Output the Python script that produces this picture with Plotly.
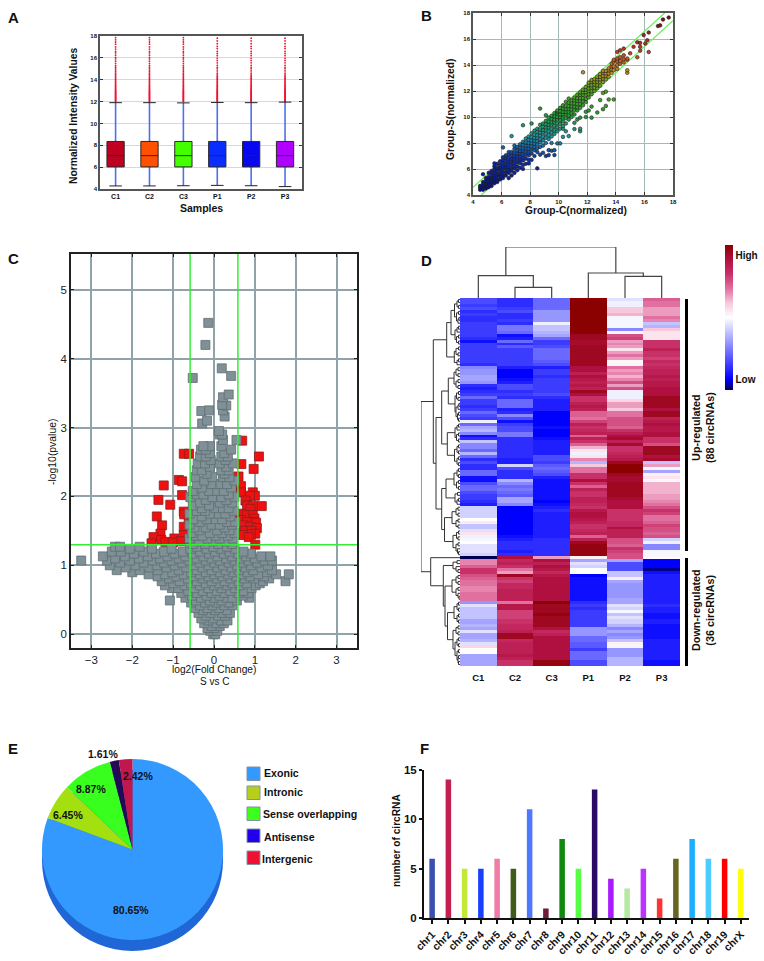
import plotly.graph_objects as go

W, H = 764, 961
FONT = "Liberation Sans"

# panel A
samples = ["C1", "C2", "C3", "P1", "P2", "P3"]
box_q1 = [6.02, 6.02, 6.02, 6.02, 6.02, 6.02]
box_median = [7.05, 7.05, 7.05, 7.05, 7.05, 7.05]
box_q3 = [8.35, 8.35, 8.35, 8.35, 8.35, 8.35]
box_low = [4.28, 4.28, 4.3, 4.33, 4.3, 4.22]
box_high = [11.9, 11.9, 11.88, 11.92, 11.9, 11.95]
box_colors = ["#c00020", "#ff5000", "#44ff00", "#0a2cff", "#0808f0", "#b000ff"]
outliers_c = [12.0, 12.06, 12.12, 12.18, 12.24, 12.3, 12.36, 12.42, 12.48, 12.54, 12.6, 12.66, 12.72,
              12.78, 12.84, 12.9, 12.96, 13.02, 13.1, 13.18, 13.26, 13.34, 13.42, 13.5, 13.6, 13.7, 13.8,
              13.9, 14.0, 14.1, 14.22, 14.34, 14.46, 14.6, 14.74, 14.88, 15.0, 15.15, 15.3, 15.5, 15.7,
              15.9, 16.05, 16.25, 16.45, 16.6, 16.8, 17.0, 17.25, 17.45, 17.65, 17.85]
outliers_p = [12.0, 12.06, 12.12, 12.18, 12.24, 12.3, 12.36, 12.42, 12.48, 12.54, 12.6, 12.66, 12.72,
              12.78, 12.84, 12.9, 12.96, 13.02, 13.1, 13.18, 13.26, 13.34, 13.42, 13.5, 13.6, 13.7, 13.8,
              13.9, 14.0, 14.1, 14.2, 14.32, 14.44, 14.6, 14.8, 15.0, 15.12, 15.32, 15.55, 15.75, 15.95,
              16.2, 16.4, 16.6, 16.85, 17.05, 17.3, 17.55, 17.8]

# panel B, as (x, [y, ...])
b_rows = [
    (4.5, [4.4, 4.55, 4.7]), (4.7, [4.4, 4.6, 4.8, 5.0, 5.6]), (4.9, [4.5, 4.7, 4.9, 5.1, 5.3]),
    (5.1, [4.6, 4.8, 5.0, 5.2, 5.4, 5.7]), (5.3, [4.7, 4.95, 5.15, 5.35, 5.6, 5.85]),
    (5.5, [4.9, 5.1, 5.3, 5.5, 5.75, 6.0, 6.2, 6.43]), (5.7, [5.0, 5.2, 5.45, 5.65, 5.9, 6.1, 6.4]),
    (5.9, [5.2, 5.45, 5.65, 5.9, 6.1, 6.3, 6.6]), (6.1, [5.3, 5.5, 5.75, 6.0, 6.2, 6.45, 6.7, 6.9, 7.66]),
    (6.3, [5.5, 5.75, 6.0, 6.2, 6.4, 6.65, 6.9, 7.05]), (6.5, [5.3, 5.7, 5.95, 6.15, 6.4, 6.6, 6.85, 7.1, 7.3]),
    (6.7, [5.5, 5.85, 6.1, 6.35, 6.6, 6.8, 7.05, 7.3, 8.53]), (6.9, [5.7, 6.05, 6.3, 6.55, 6.8, 7.0, 7.25, 7.55, 7.8]),
    (7.1, [5.9, 6.2, 6.5, 6.75, 7.0, 7.2, 7.45, 7.7]), (7.3, [6.1, 6.45, 6.7, 6.95, 7.2, 7.4, 7.65, 7.9]),
    (7.5, [6.0, 6.3, 6.65, 6.9, 7.15, 7.4, 7.6, 7.85, 8.1, 9.37]), (7.7, [6.4, 6.8, 7.1, 7.35, 7.6, 7.8, 8.05, 8.35]),
    (7.9, [6.43, 6.7, 7.05, 7.3, 7.55, 7.8, 8.0, 8.25, 8.5]), (8.1, [6.7, 7.2, 7.5, 7.75, 8.0, 8.2, 8.45, 8.75, 9.5]),
    (8.3, [7.0, 7.45, 7.7, 7.95, 8.2, 8.4, 8.65, 8.95]), (8.5, [6.05, 7.3, 7.6, 7.9, 8.15, 8.4, 8.6, 8.85, 9.1]),
    (8.7, [7.1, 7.7, 8.05, 8.3, 8.6, 8.8, 9.05, 9.4, 10.65]), (8.9, [7.25, 7.8, 8.2, 8.5, 8.8, 9.0, 9.25, 9.5]),
    (9.1, [7.0, 8.0, 8.4, 8.7, 9.0, 9.2, 9.45, 9.7, 10.14]), (9.3, [7.07, 7.45, 8.3, 8.6, 8.9, 9.2, 9.4, 9.65, 9.95]),
    (9.5, [7.4, 8.0, 8.5, 8.8, 9.1, 9.4, 9.6, 9.85, 10.1]), (9.7, [7.07, 7.45, 8.7, 9.0, 9.3, 9.6, 9.8, 10.05, 10.3]),
    (9.9, [7.97, 8.9, 9.2, 9.5, 9.8, 10.0, 10.25, 10.4, 10.5]), (10.1, [7.97, 9.1, 9.45, 9.75, 10.0, 10.2, 10.45, 10.7]),
    (10.3, [8.47, 9.1, 9.3, 9.65, 9.95, 10.2, 10.4, 10.65, 10.9]), (10.5, [8.9, 9.5, 9.9, 10.2, 10.4, 10.6, 10.85, 11.17]),
    (10.7, [8.53, 9.8, 10.1, 10.4, 10.6, 10.85, 11.1, 11.42]), (10.9, [10.0, 10.3, 10.6, 10.85, 11.05, 11.3]),
    (11.1, [9.07, 9.55, 10.2, 10.55, 10.8, 11.05, 11.3, 11.5]), (11.3, [9.8, 10.5, 10.75, 11.0, 11.25, 11.45, 11.7]),
    (11.5, [8.9, 9.1, 9.95, 10.7, 11.0, 11.25, 11.45, 11.7, 11.9]), (11.7, [10.9, 11.2, 11.45, 11.7, 11.9, 12.1, 13.44]),
    (11.9, [10.0, 10.4, 11.15, 11.4, 11.7, 11.9, 12.1, 12.3]), (12.1, [10.5, 11.5, 11.75, 12.0, 12.2, 12.45, 12.65]),
    (12.3, [9.95, 10.8, 11.75, 12.0, 12.25, 12.45, 12.7, 12.85]), (12.5, [12.0, 12.25, 12.5, 12.7, 12.9]),
    (12.7, [10.35, 12.2, 12.45, 12.7, 12.9, 13.1]), (12.9, [11.3, 12.4, 12.7, 12.9, 13.1, 13.3]),
    (13.1, [10.6, 11.85, 12.7, 12.95, 13.15, 13.4, 13.55]), (13.3, [10.85, 11.95, 12.9, 13.15, 13.35, 13.55]),
    (13.5, [11.35, 13.1, 13.35, 13.6, 13.75]), (13.7, [13.4, 13.65, 13.9, 14.1]),
    (13.85, [11.35, 13.6, 13.9, 14.25, 14.4]), (14.1, [13.7, 14.0, 14.3, 14.5, 15.0]),
    (14.3, [14.1, 14.3, 14.6, 15.13]), (14.55, [14.2, 14.45, 14.75, 15.26]), (14.8, [13.4, 13.6, 14.4, 14.5]),
    (15.0, [14.9]), (15.24, [15.4]), (15.5, [14.6, 15.75]), (15.7, [15.1, 15.4, 15.7]),
    (15.95, [16.3]), (16.06, [15.65]), (16.2, [15.9]), (16.3, [15.0, 16.5]),
    (16.95, [17.0]), (17.1, [17.05]), (17.3, [17.5]), (17.7, [17.65]),
]
b_fold_lines = [0.585, -0.585]

# panel C, as (y, [x, ...])
red_rows = [
    (2.81, [0.69]), (2.62, [-0.74, -0.61]), (2.58, [1.1]), (2.47, [0.67]), (2.4, [0.97]), (2.29, [0.6]),
    (2.24, [-0.86]), (2.22, [-0.78]), (2.16, [-1.23]), (2.15, [0.66]), (2.06, [0.66, 0.95]), (2.02, [-0.78]),
    (2.01, [1.0, 0.88]), (1.95, [-1.36]), (1.94, [0.77]), (1.88, [-1.07]), (1.87, [0.81]), (1.86, [1.17, 0.95]),
    (1.82, [0.89]), (1.78, [-0.74]), (1.75, [0.64]), (1.74, [-0.73]), (1.73, [0.81, 0.95]), (1.71, [-1.4]),
    (1.68, [0.99]), (1.66, [-0.62, 0.65]), (1.63, [0.97, 0.8]), (1.62, [1.03]), (1.58, [-1.27, 0.73]),
    (1.56, [-0.74, 0.89]), (1.54, [1.05]), (1.5, [0.75, 0.92]), (1.46, [-1.31, 1.01]), (1.45, [0.9]),
    (1.44, [-0.74, 0.71]), (1.41, [-1.48, 0.85]), (1.39, [-0.97]), (1.37, [-1.29]), (1.35, [-0.82]),
    (1.34, [-1.19]), (1.33, [-1.01]), (1.32, [-1.53, -0.58]), (1.3, [1.01]),
]
gray_rows = [
    (0.0, [-0.02, 0.03]), (0.05, [-0.09, 0.08]), (0.09, [0.0, -0.16]), (0.12, [0.14, -0.06]),
    (0.16, [-0.24, 0.05, 0.24]), (0.2, [-0.14, 0.17, 0.33]), (0.23, [-0.31, -0.03]), (0.27, [-0.2, 0.1, 0.27]),
    (0.31, [-0.38, -0.09, 0.2, 0.39]), (0.35, [-0.27, 0.02, 0.31]), (0.38, [-0.47, -0.16, 0.12]),
    (0.42, [-0.35, -0.04, 0.25, 0.46]), (0.46, [-0.56, -0.22, 0.06, 0.36]), (0.49, [-1.08, -0.44, -0.1, 0.18, 0.56]),
    (0.53, [-0.7, -0.32, 0.0, 0.3, 0.45, 0.86]), (0.56, [-0.54, -0.18, 0.13, 0.7]),
    (0.6, [-0.8, -0.42, -0.06, 0.24, 0.58, 0.84]), (0.63, [-0.63, -0.28, 0.06, 0.4, 0.72]),
    (0.67, [-1.03, -0.88, -0.48, -0.14, 0.18, 0.52, 0.92]), (0.71, [-1.2, -0.72, -0.34, 0.0, 0.3, 0.64, 1.02]),
    (0.74, [-1.0, -0.56, -0.2, 0.12, 0.44, 0.8, 1.12]), (0.77, [-1.28, -0.84, -0.42, -0.06, 0.26, 0.6, 1.2, 1.75]),
    (0.81, [-1.1, -0.64, -0.28, 0.06, 0.4, 0.74, 0.98, 1.35]), (0.84, [-1.38, -0.92, -0.48, -0.14, 0.2, 0.54, 0.88, 1.22]),
    (0.87, [-1.6, -1.2, -0.74, -0.34, 0.0, 0.34, 0.68, 1.08, 1.52, 1.83]), (0.9, [-2.0, -1.02, -0.56, -0.2, 0.14, 0.46, 0.82, 1.3]),
    (0.93, [-2.38, -1.82, -1.38, -0.86, -0.42, -0.06, 0.28, 0.6, 0.96, 1.42]),
    (0.97, [-2.16, -1.58, -1.16, -0.68, -0.28, 0.08, 0.42, 0.76, 1.16]),
    (1.0, [-2.55, -1.92, -1.4, -0.96, -0.5, -0.14, 0.22, 0.56, 0.9, 1.32]),
    (1.04, [-2.3, -1.72, -1.22, -0.78, -0.34, 0.0, 0.36, 0.7, 1.06]),
    (1.07, [-3.25, -2.62, -2.05, -1.5, -1.04, -0.6, -0.2, 0.14, 0.5, 0.84, 1.24, 1.42]),
    (1.1, [-2.42, -1.84, -1.32, -0.86, -0.42, -0.06, 0.3, 0.64, 1.0]),
    (1.13, [-2.72, -2.18, -1.62, -1.14, -0.7, -0.26, 0.08, 0.44, 0.78, 1.16, 1.38]),
    (1.17, [-1.96, -1.42, -0.96, -0.52, -0.12, 0.24, 0.58, 0.9]), (1.2, [-2.5, -2.28, -1.72, -1.22, -0.76, -0.34, 0.02, 0.38, 0.72]),
    (1.24, [-2.06, -1.52, -1.04, -0.58, -0.18, 0.16, 0.5]), (1.27, [-2.42, -2.3, -1.82, -0.42, -0.02, 0.32]),
    (1.31, [-0.52, -0.22, 0.1, 0.44]), (1.35, [-0.36, -0.02, 0.28]), (1.39, [-0.6, -0.16, 0.14, 0.46]),
    (1.43, [-0.44, -0.28, 0.04, 0.34]), (1.47, [-0.54, -0.1, 0.2, 0.5]), (1.51, [-0.36, 0.08, 0.38]),
    (1.55, [-0.48, -0.2, 0.26]), (1.59, [-0.6, -0.06, 0.14, 0.44]), (1.63, [-0.34, 0.32, 0.52]),
    (1.67, [-0.5, -0.18, 0.04, 0.2]), (1.71, [-0.3, 0.4]), (1.75, [-0.6, -0.1, 0.12, 0.28]),
    (1.79, [-0.42, -0.22, 0.48]), (1.83, [-0.3, 0.04, 0.22, 0.36]), (1.87, [-0.52, -0.12]),
    (1.91, [-0.34, 0.14, 0.44]), (1.95, [-0.2, 0.3]), (1.99, [-0.58, -0.04, 0.18, 0.5]),
    (2.03, [-0.42, -0.26, 0.36]), (2.08, [-0.52, -0.12, 0.08, 0.24]), (2.13, [-0.3, 0.42]),
    (2.18, [-0.42, -0.06, 0.16, 0.32]), (2.23, [-0.24, 0.5]), (2.28, [-0.46, -0.04, 0.22, 0.38]),
    (2.33, [-0.18, 0.26]), (2.38, [-0.42, -0.3, 0.18, 0.36]), (2.43, [-0.1, 0.3]), (2.48, [-0.4, -0.22, 0.14, 0.46]),
    (2.53, [-0.08, 0.28]), (2.58, [-0.34, -0.2, 0.18, 0.34]), (2.63, [-0.1, 0.25]), (2.68, [-0.32, -0.2, 0.42]),
    (2.73, [0.18, -0.1, -0.26]), (2.82, [0.22, 0.55]), (2.9, [0.14, 0.2]),
    (2.95, [0.12]), (3.06, [-0.29]), (3.1, [-0.17]), (3.16, [0.26]), (3.24, [-0.31]), (3.25, [-0.12, 0.22]),
    (3.32, [0.3]), (3.33, [0.2]), (3.44, [0.22]), (3.48, [0.36]), (3.72, [-0.52]), (3.75, [0.42]),
    (3.86, [0.19]), (4.2, [-0.21]), (4.52, [-0.14]),
]
volcano_fc = [-0.585, 0.585]
volcano_p = 1.3

# panel D, one list per column, rows from top to bottom
heat_c1 = [-6, -6, -6.5, -6, -7, -6.5, -7, -7, -6.5, -6.5,
           -6.5, -6.5, -6.5, -7, -8, -6.5, -6.5, -6.5, -6.5, -6.5,
           -6.5, -6.5, -7, -4, -3.5, -3.5, -3, -3, -3.5, -7,
           -7.5, -7, -6.5, -5, -6.5, -6.5, -7, -6.5, -5, -6,
           -6.5, -0.5, -5, -3, -2.5, -4, -8, -7, -2, -4,
           -4, -5, -2.5, -5, -7, -6, -7, -7, -5, -5,
           -8, -8, -6, -5, -5, -6, -6.5, -6.5, -7, -7.5,
           -1.5, -1.5, -1.5, -1.5, 0, 0.8, -2, -2, -1, 1,
           -0.5, -0.3, 0, -1, -1, -1, -1.5, -10, 3.5, 3.5,
           4.5, 6, 6, 5, 4.5, 4, 4, 3.5, 3.5, 4,
           4, 4, -3.5, -1, -2, -2, -2, -2, -3, -3,
           -2.5, -3, -1, -3, -3, -2.5, -1, 1.5, 0, 0,
           -3, -3, -3, -3]
heat_c2 = [-7, -7, -7, -6.5, -6, -7, -7, -6.5, -7, -4.5,
           -4.5, -5, -8, -7.5, -5, -7, -5.5, -6.5, -6.5, -6.5,
           -6.5, -6.5, -6.5, -7.5, -8.5, -8.5, -8.5, -8, -7.5, -6,
           -6, -7, -6.5, -7, -5, -5, -5, -7.5, -7, -4,
           -6, -8, -6.5, -6, -6, -4.5, -4.5, -7, -7, -7,
           -7, -7, -7, -7, -7.5, -7.5, -1.5, -6, -7, -7,
           -7, -2.5, -4, -5, -4.5, -5, -5.5, -3, -3, -4,
           -8.5, -8.5, -8.5, -8.5, -8.5, -8.5, -8.5, -8.5, -8.5, -8.5,
           -8, -7.5, -7, -7, -7, -7.5, -7, 8, 6.5, 7,
           6, 4, 3, 9, 6, 5.5, 6.5, 6.5, 7, 7,
           7, 7, 4, 7.5, 7.5, 5.5, 5.5, 5.5, 6, 6,
           6.5, 6.5, 7, 9, 9, 6.5, 7, 7, 7, 7,
           7.5, 7, 6, 6]
heat_c3 = [-5, -5, -5, -5, -3.5, -3.5, -3.5, -3.5, -0.5, -2,
           -2, -2.5, -3, -5, -6.5, -6.5, -6, -5, -5, -5,
           -5, -5.5, -6, -7.5, -6.5, -6.5, -7, -6.5, -6.5, -6.5,
           -6.5, -6.5, -6, -7, -7.5, -7.5, -7.5, -7.5, -8.5, -8.5,
           -8.5, -8.5, -8.5, -8, -8.5, -8.5, -8.5, -8, -7.5, -7.5,
           -7.5, -7.5, -7.5, -6, -6, -6.5, -5.5, -5, -5.5, -6,
           -7.5, -8, -8, -8, -8, -8, -8, -8, -8.5, -8,
           -7.5, -7, -7.5, -7.5, -7.5, -7.5, -7.5, -7.5, -7.5, -7.5,
           -7.5, -7, -7, -7, -7, -7, -7, 3, 8, 7,
           8, 7.5, 6.5, 7.5, 8, 8, 8, 8, 8, 8,
           8, 8, 10, 9, 9, 9, 9.5, 9, 9, 9,
           9, 8, 6.5, 7, 8, 8, 8, 8, 8, 8,
           8, 8, 9.5, 9.5]
heat_p1 = [10, 10, 10, 10, 10, 10, 10, 10, 10, 10,
           10, 10, 9, 9, 8.5, 8.5, 9, 9, 9, 9,
           9, 9, 9, 8, 8, 7, 8, 7.5, 7, 7.5,
           7, 9, 8, 6, 6, 7, 7.5, 7, 4.5, 4.5,
           4, 5.5, 7, 6, 6.5, 7, 4.5, 7, 6, 4.5,
           2.5, 1, -0.5, 1, 3.5, -2.5, 2, 4, 4, 6,
           6, 8, 6, 4.5, 7, 6, 6, 7, 7, 6.5,
           6, 7.5, 8, 8, 7.5, 7, 6, 6, 6.5, 7,
           4.5, 7, 9, 9.5, 9.5, 9.5, 9.5, 0.5, -3, -1,
           -1.5, 0, 0, -8.5, -8, -8, -8, -8, -8, -8,
           -8, -8, -7, -6.5, -7, -6.5, -6.5, -6.5, -6.5, -6.5,
           -6.5, -3.5, -3.5, -3.5, -5, -5, -5.5, -5.5, -6.5, -5,
           -5, -5, -6, -6]
heat_p2 = [-1, -0.5, -0.5, 2, 2, 2.5, -0.3, -0.3, -0.3, -0.3,
           -4, -0.3, 5, 5.5, 3, 3.5, 3, 1, 3, 4,
           3, 0.3, -0.3, 4, 3, 3.5, 2.5, 3.5, 5, 3,
           5, -0.5, -0.5, -0.5, 1.5, 3, 3, 2, 4, 4,
           5, 5, 5, 4.5, 6, 7, 8, 8.5, 7, 8.5,
           6, 6, 6.5, 7, 7.5, 9, 10, 10, 10, 9,
           8.5, 8.5, 9, 9, 9, 9, 9, 8.5, 8, 8,
           8, 6, 6, 6, 6, 6.5, 6.5, 8, 7, 7,
           7, 5, 5, 4.5, 6, 5.5, 5, 5, -3, -6,
           -6, -6, -2, -2, 0.8, -3, -3.5, -3.5, -3.5, -3.5,
           -3.5, -3, -3, -1, -1.5, -0.3, -2, -1, -1.5, -1.5,
           -2.5, -4, -3, -4, -3.5, -2, 0.5, -0.3, -3.5, -3.5,
           -3.5, -2.5, -2.5, -2.5]
heat_p3 = [4.5, 4, 4, 3, 3, 3, 4, 3.5, -2, -2.5,
           2, 1, 1, 1, 6, 6, 6, 7, 6, 6,
           5.5, 6.5, 6, 6.5, 7, 7, 7.5, 7, 7.5, 7.5,
           8, 8, 8, 9, 9, 9, 9, 8, 9, 9,
           7, 7.5, 8, 7.5, 7.5, 8, 8, 6, 6, 5,
           9, 9, 9, 8, 8.5, -2, 3, -0.3, -3, 0.5,
           1, 0.3, 2.5, 2.5, 2.5, 2.5, 3, 3, 3.5, 4,
           5, 6, 5.5, 4, 4, 4.5, 5.5, 5, 5, 4.5,
           5, -1.5, -0.5, -4, -4, -0.3, -0.3, 0.2, -8.5, -8.5,
           -8.5, -9.5, -8, -7.5, -7.5, -7.5, -7.5, -7.5, -7.5, -7.5,
           -7.5, -7.5, -7.5, -7, -7.5, -7.5, -8, -8, -7.5, -7.5,
           -8, -8, -8, -8, -8, -7.5, -7.5, -7.5, -7.5, -7.5,
           -7.5, -7.5, -8, -8]

# dendrograms as [height, child, child], an int is a leaf
tree_top = [51, [22.3, 0, [10.7, 1, 2]], [25, 3, [21.7, 4, 5]]]
a1 = [5.5, [3, [1.5, 0, 1], [1.5, 2, 3]], [3.5, [1.5, 4, 5], [2, [1, 6, 7], 8]]]
a2 = [5, [3, [1.5, 9, 10], 11], [3.5, [1.5, 12, 13], [1.5, 14, 15]]]
a3 = [5.7, [4, [1.5, 16, 17], [2, 18, 19]], [3, [1.5, 20, 21], 22]]
b11 = [11.7, [6, [4, [2, 23, 24], [2, 25, 26]], [4, [2, 27, 28], [2, 29, 30]]],
       [5, [3.5, [1.5, 31, 32], [2, 33, 34]], [4, [2, [1, 35, 36], 37], [2.5, [1.5, 38, 39], [1.5, 40, 41]]]]]
b12 = [12.7, [5, [3, [1.5, 42, 43], 44], [3.5, [1.5, 45, 46], [1.5, 47, 48]]],
       [5.5, [3, [1.5, 49, 50], [1.5, 51, 52]], [3, [1.5, 53, 54], [1.5, 55, 56]]]]
b2 = [18.3, [14, [6, [3, [1.5, 57, 58], [1.5, 59, 60]], [3.5, [1.5, 61, 62], [1.5, 63, 64]]],
             [5, [2.5, 65, 66], [3, [1.5, 67, 68], 69]]],
      [15.5, [8, [4, [2, 70, 71], [2, 72, 73]], [4, [2, 74, 75], [2, 76, 77]]],
       [7, [3.5, [1.5, 78, 79], [2, 80, 81]], [4, [2, 82, 83], [2.5, 84, [1.5, 85, 86]]]]]]
d2 = [16.7, [7, [3, 88, 89], [4, 90, [2, 91, 92]]],
      [15, [8, [4, [2, 93, 94], [2, 95, 96]], [4, [2, 97, 98], [2, 99, [1, 100, 101]]]],
       [12.5, [6, [3, [1.5, 102, 103], [1.5, 104, 105]], [3, [1.5, 106, 107], [1.5, 108, 109]]],
        [7, [4, [2, 110, 111], [2, 112, 113]],
         [5, [3, [1.5, 114, 115], [1.5, 116, 117]], [3, [1.5, 118, 119], [2, [1.5, 120, 121], [1.5, 122, 123]]]]]]]]
tree_left = [39, [26.7, [13.3, [9, a1, a2], a3], [24, [18.3, b11, b12], b2]], [29.3, 87, d2]]

# panel E
pie_labels = ["Exonic", "Intronic", "Sense overlapping", "Antisense", "Intergenic"]
pie_values = [80.65, 6.45, 8.87, 1.61, 2.42]
pie_colors = ["#3399ff", "#a4e010", "#39ff1e", "#220a55", "#c2174e"]
legend_colors = ["#3399ff", "#b5cf1a", "#3cff1a", "#2200ee", "#ee1133"]

# panel F
chroms = ["chr1", "chr2", "chr3", "chr4", "chr5", "chr6", "chr7", "chr8", "chr9", "chr10",
          "chr11", "chr12", "chr13", "chr14", "chr15", "chr16", "chr17", "chr18", "chr19", "chrX"]
chrom_counts = [6, 14, 5, 5, 6, 5, 11, 1, 8, 5, 13, 4, 3, 5, 2, 6, 8, 6, 6, 5]
chrom_colors = ["#3a4fb0", "#c41f50", "#c4e838", "#1a40ff", "#ee7ca6", "#3f5c18", "#4d78ff", "#6e1a3c",
                "#0f8a0f", "#55ff44", "#2a0a66", "#aa1aff", "#b5e8a0", "#bb33ff", "#ff3333", "#666622",
                "#1ab0ff", "#4dccff", "#ff0000", "#ffff00"]


def xdom(x0, x1):
    return [x0 / W, x1 / W]


def ydom(top, bottom):
    return [1 - bottom / H, 1 - top / H]


def note(text, x, y, size, bold=True, angle=0, anchor="center"):
    return dict(text=text, x=x / W, y=1 - y / H, xref="paper", yref="paper", showarrow=False,
                xanchor=anchor, yanchor="middle", textangle=angle, align="center",
                font=dict(family=FONT, size=size, color="#111", weight="bold" if bold else "normal"))


def box_shape(x0, y0, x1, y1, color, line=None):
    return dict(type="rect", xref="paper", yref="paper", x0=x0 / W, x1=x1 / W, y0=1 - y1 / H, y1=1 - y0 / H,
                fillcolor=color, line=dict(color=line or color, width=1 if line else 0))


def flatten_by_x(rows):
    xs, ys = [], []
    for x, vals in rows:
        for v in vals:
            xs.append(x)
            ys.append(v)
    return xs, ys


def tree_segments(node, segs):
    # returns leaf position and height of this node, adds the bracket to segs
    if isinstance(node, int):
        return node, 0
    h, a, b = node
    pa, ha = tree_segments(a, segs)
    pb, hb = tree_segments(b, segs)
    segs.append(((pa, ha), (pa, h), (pb, h), (pb, hb)))
    return (pa + pb) / 2, h


fig = go.Figure()

# A: blue whiskers, then the coloured boxes, caps and red outliers
for i, s in enumerate(samples):
    fig.add_trace(go.Box(x=[s], q1=[box_q1[i]], median=[box_median[i]], q3=[box_q3[i]],
                         lowerfence=[box_low[i]], upperfence=[box_high[i]], width=0.02, whiskerwidth=0,
                         line=dict(color="#5070e8", width=1.6), fillcolor="#5070e8",
                         boxpoints=False, xaxis="x", yaxis="y"))
for i, s in enumerate(samples):
    fig.add_trace(go.Box(x=[s], q1=[box_q1[i]], median=[box_median[i]], q3=[box_q3[i]],
                         lowerfence=[box_q1[i]], upperfence=[box_q3[i]], width=0.51, whiskerwidth=0,
                         line=dict(color="#2a2a2a", width=1), fillcolor=box_colors[i],
                         boxpoints=False, xaxis="x", yaxis="y"))
    outs = outliers_c if s.startswith("C") else outliers_p
    fig.add_trace(go.Scatter(x=[s] * len(outs), y=outs, mode="markers", xaxis="x", yaxis="y",
                             marker=dict(color="#f01030", size=1.8, line=dict(width=0))))
fig.add_trace(go.Scatter(x=samples + samples, y=box_low + box_high, mode="markers", xaxis="x", yaxis="y",
                         marker=dict(symbol="line-ew", size=9, line=dict(color="#222", width=1))))

# B
bx, by = flatten_by_x(b_rows)
for d in b_fold_lines:
    lx = [4, 18 - d] if d > 0 else [4 - d, 18]
    fig.add_trace(go.Scatter(x=lx, y=[v + d for v in lx], mode="lines", xaxis="x2", yaxis="y2",
                             line=dict(color="#66ee55", width=1.2)))
fig.add_trace(go.Scatter(x=bx, y=by, mode="markers", xaxis="x2", yaxis="y2",
                         marker=dict(size=3.6, symbol="circle", color=by, cmin=4, cmax=18,
                                     colorscale=[[0, "#0c0c70"], [0.2, "#1030b0"], [0.32, "#1c98a8"],
                                                 [0.44, "#22a030"], [0.58, "#58a820"], [0.68, "#c09020"],
                                                 [0.8, "#d03020"], [1, "#601010"]],
                                     line=dict(color="#1a1a1a", width=0.6))))

# C
gy, gx = flatten_by_x(gray_rows)
ry, rx = flatten_by_x(red_rows)
fig.add_trace(go.Scatter(x=rx, y=ry, mode="markers", xaxis="x3", yaxis="y3",
                         marker=dict(symbol="square", size=9, color="#f01010", line=dict(color="#8c2020", width=0.8))))
fig.add_trace(go.Scatter(x=gx, y=gy, mode="markers", xaxis="x3", yaxis="y3",
                         marker=dict(symbol="square", size=9, color="#7f9096", line=dict(color="#5f6e72", width=0.8))))
for v in volcano_fc:
    fig.add_trace(go.Scatter(x=[v, v], y=[-0.2, 5.52], mode="lines", xaxis="x3", yaxis="y3",
                             line=dict(color="#33ee33", width=1.5)))
fig.add_trace(go.Scatter(x=[-3.5, 3.5], y=[volcano_p, volcano_p], mode="lines", xaxis="x3", yaxis="y3",
                         line=dict(color="#33ee33", width=1.5)))

# D
heat_cols = [heat_c1, heat_c2, heat_c3, heat_p1, heat_p2, heat_p3]
heat_z = [list(r) for r in zip(*heat_cols)]
fig.add_trace(go.Heatmap(z=heat_z, x=samples, y=list(range(len(heat_z))), xaxis="x4", yaxis="y4",
                         zmin=-10, zmax=10,
                         colorscale=[[0, "#000050"], [0.075, "#0000ff"], [0.5, "#ffffff"], [0.6, "#f8c8dc"],
                                     [0.7, "#e070a0"], [0.8, "#c83068"], [0.9, "#b01040"], [1, "#8b0000"]],
                         colorbar=dict(x=725 / W, xanchor="left", y=1 - 245 / H, yanchor="top", len=145 / H,
                                       thickness=8, xpad=0, ypad=0, outlinewidth=0, ticks="", tickvals=[8.6, -8.6],
                                       ticktext=["High", "Low"],
                                       tickfont=dict(family=FONT, size=10, color="#111", weight="bold"))))
top_segs, left_segs = [], []
tree_segments(tree_top, top_segs)
tree_segments(tree_left, left_segs)
tx, ty = [], []
for seg in top_segs:
    tx += [p[0] for p in seg] + [None]
    ty += [p[1] for p in seg] + [None]
fig.add_trace(go.Scatter(x=tx, y=ty, mode="lines", xaxis="x5", yaxis="y5", line=dict(color="#444", width=1.2)))
lx, ly = [], []
for seg in left_segs:
    lx += [p[1] for p in seg] + [None]
    ly += [p[0] for p in seg] + [None]
fig.add_trace(go.Scatter(x=lx, y=ly, mode="lines", xaxis="x6", yaxis="y6", line=dict(color="#333", width=1)))

# E, the darker disc below gives the 3D edge
fig.add_trace(go.Pie(values=[100], marker=dict(colors=["#1f66d6"], line=dict(width=0)), textinfo="none",
                     domain=dict(x=xdom(42, 223), y=ydom(770, 951)), sort=False, hoverinfo="skip"))
fig.add_trace(go.Pie(values=pie_values, labels=pie_labels, marker=dict(colors=pie_colors, line=dict(width=0)),
                     textinfo="none", sort=False, direction="clockwise", rotation=0,
                     domain=dict(x=xdom(42, 223), y=ydom(759, 940))))

# F
fig.add_trace(go.Bar(x=chroms, y=chrom_counts, marker=dict(color=chrom_colors, line=dict(width=0)),
                     width=0.34, xaxis="x7", yaxis="y7"))

frame = dict(showline=True, mirror="ticks", linecolor="#555", linewidth=1.5, zeroline=False, ticks="inside",
             ticklen=3, tickcolor="#333")
small_bold = dict(family=FONT, size=6, color="#111", weight="bold")
c_frame = dict(showline=True, mirror="ticks", linecolor="#222", linewidth=1.5, zeroline=False, ticks="inside",
               ticklen=3, tickcolor="#222", gridcolor="#8fa3a8", gridwidth=1.6,
               tickfont=dict(family=FONT, size=11.5, color="#222"))
hidden = dict(visible=False, fixedrange=True)

annotations = [
    note("A", 14, 17, 15), note("B", 426, 16, 15), note("C", 14, 259, 15), note("D", 426, 260, 15),
    note("E", 13, 748, 15), note("F", 425, 748, 15),
    note("Samples", 201, 208, 10.5), note("Normalized Intensity Values", 74, 116, 10.3, angle=-90),
    note("Group-C(normalized)", 576, 211, 10.2), note("Group-S(normalized)", 450, 110, 10.2, angle=-90),
    note("log2(Fold Change)", 214, 669, 10.2, bold=False), note("S vs C", 214, 681, 10, bold=False),
    note("-log10(pvalue)", 52, 452, 10.4, bold=False, angle=-90),
    note("Up-regulated<br>(88 circRNAs)", 703, 428, 10.8, angle=-90),
    note("Down-regulated<br>(36 circRNAs)", 703, 610, 10.8, angle=-90),
    note("80.65%", 131, 909.7, 10.5), note("6.45%", 68, 814.5, 10.5), note("8.87%", 91, 788.7, 10.5),
    note("1.61%", 103, 753.7, 10.5), note("2.42%", 137.5, 775.7, 10.5),
    note("Exonic", 261.5, 773, 10.6, anchor="left"), note("Intronic", 261.5, 792, 10.6, anchor="left"),
    note("Sense overlapping", 260.5, 814, 10.6, anchor="left"), note("Antisense", 262, 837, 10.6, anchor="left"),
    note("Intergenic", 260, 859, 10.6, anchor="left"),
    note("number of circRNA", 396, 841, 10.2, angle=-90),
]

legend_tops = [767, 786, 807, 829, 851]
shapes = [box_shape(247, t, 260, t + 13.5, c, "#7f93a8") for t, c in zip(legend_tops, legend_colors)]
shapes.append(box_shape(685, 299, 688, 551, "#000"))
shapes.append(box_shape(685, 558, 688, 666, "#000"))

fig.update_layout(
    width=W, height=H, margin=dict(l=0, r=0, t=0, b=0, autoexpand=False), paper_bgcolor="white", plot_bgcolor="white",
    showlegend=False, font=dict(family=FONT), annotations=annotations, shapes=shapes, boxmode="overlay",
    xaxis=dict(domain=xdom(100, 302), range=[-0.46, 5.5], type="category", tickfont=dict(family=FONT, size=7, color="#111", weight="bold"),
               showgrid=False, **{**frame, "ticks": "", "ticklen": 0}),
    yaxis=dict(domain=ydom(36, 189), range=[4, 18], tickvals=[4, 6, 8, 10, 12, 14, 16, 18], tickfont=small_bold,
               gridcolor="#cfdcd8", gridwidth=1, anchor="x", **frame),
    xaxis2=dict(domain=xdom(473, 673), range=[4, 18], tickvals=[4, 6, 8, 10, 12, 14, 16, 18], tickfont=small_bold,
                gridcolor="#a4bab8", gridwidth=1, anchor="y2", **frame),
    yaxis2=dict(domain=ydom(13, 195), range=[4, 18], tickvals=[4, 6, 8, 10, 12, 14, 16, 18], tickfont=small_bold,
                gridcolor="#a4bab8", gridwidth=1, anchor="x2", **frame),
    xaxis3=dict(domain=xdom(71, 357), range=[-3.5, 3.5], tickvals=[-3, -2, -1, 0, 1, 2, 3], anchor="y3", **c_frame),
    yaxis3=dict(domain=ydom(254, 648), range=[-0.2, 5.52], tickvals=[0, 1, 2, 3, 4, 5], anchor="x3", **c_frame),
    xaxis4=dict(domain=xdom(460, 680), range=[-0.5, 5.5], type="category", anchor="y4", showgrid=False, ticks="",
                zeroline=False, ticklabelstandoff=4, tickfont=dict(family=FONT, size=9.5, color="#111", weight="bold")),
    yaxis4=dict(domain=ydom(298, 666), range=[123.5, -0.5], anchor="x4", visible=False),
    xaxis5=dict(domain=xdom(460, 680), range=[-0.5, 5.5], anchor="y5", **hidden),
    yaxis5=dict(domain=ydom(247, 298), range=[0, 51], anchor="x5", **hidden),
    xaxis6=dict(domain=xdom(421, 460), range=[39, 0], anchor="y6", **hidden),
    yaxis6=dict(domain=ydom(298, 666), range=[123.5, -0.5], anchor="x6", **hidden),
    xaxis7=dict(domain=xdom(424, 749), range=[-0.5, 19.5], type="category", anchor="y7", showline=True, linecolor="#111",
                linewidth=2, ticks="outside", ticklen=4, tickcolor="#111", tickwidth=1.5, tickangle=-45, showgrid=False,
                zeroline=False, tickfont=dict(family=FONT, size=10.5, color="#111", weight="bold")),
    yaxis7=dict(domain=ydom(769.7, 918.3), range=[0, 15], tickvals=[0, 5, 10, 15], anchor="x7", showline=True,
                linecolor="#111", linewidth=2, ticks="outside", ticklen=3, tickcolor="#111", tickwidth=1.5, showgrid=False,
                zeroline=False, tickfont=dict(family=FONT, size=11.5, color="#111", weight="bold")),
)

fig.write_html("out.html", post_script="document.body.style.margin='0';", config=dict(displayModeBar=False))
